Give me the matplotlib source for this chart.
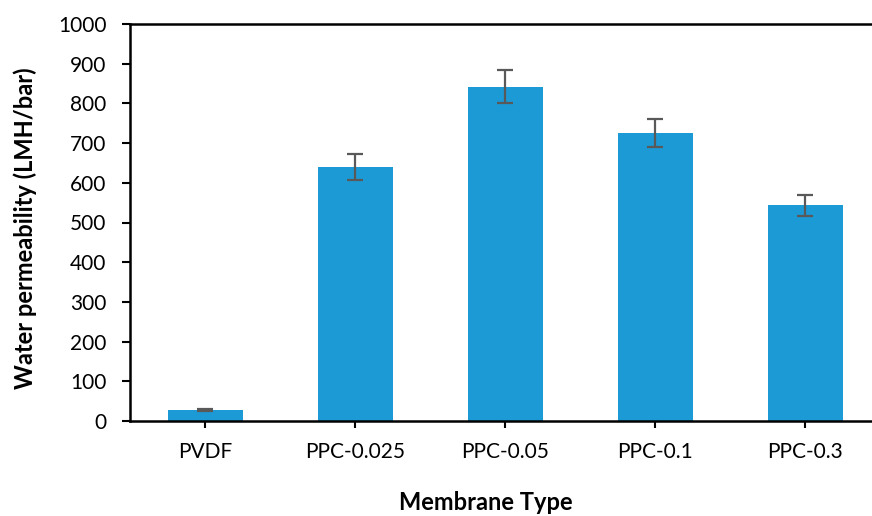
import numpy as np
import matplotlib.pyplot as plt

plt.rcParams['font.family'] = ['Lato', 'DejaVu Sans']

membranes = ["PVDF", "PPC-0.025", "PPC-0.05", "PPC-0.1", "PPC-0.3"]
permeability = [28, 640, 842, 725, 543]
perm_err = [2, 32, 42, 36, 27]
y_ticks = [0, 100, 200, 300, 400, 500, 600, 700, 800, 900, 1000]

fig = plt.figure(figsize=(8.72, 5.16), dpi=100)
ax = fig.add_axes([130 / 872, 95 / 516, 750 / 872, 397 / 516])

x = np.arange(len(membranes))
ax.bar(x, permeability, width=0.5, color="#1C9AD6", zorder=2)
ax.errorbar(x, permeability, yerr=perm_err, fmt="none", ecolor="#595959",
            elinewidth=1.6, capsize=6, capthick=1.6, zorder=3)

ax.set_xlim(-0.5, len(membranes) - 0.5)
ax.set_ylim(0, 1000)
ax.set_yticks(y_ticks)
ax.set_xticks(x)
ax.set_xticklabels(membranes)

for side in ["left", "bottom", "top"]:
    ax.spines[side].set_linewidth(1.8)
    ax.spines[side].set_color("black")
ax.spines["right"].set_visible(False)

ax.tick_params(axis="y", direction="out", length=6, width=1.5, labelsize=15, pad=11)
ax.tick_params(axis="x", direction="out", length=5, width=1.5, labelsize=15, pad=10)

fig.text(25 / 872, 1 - 228 / 516, "Water permeability (LMH/bar)", fontsize=17,
         fontweight="bold", rotation=90, ha="center", va="center")
fig.text(486 / 872, 1 - 502 / 516, "Membrane Type", fontsize=17, fontweight="bold",
         ha="center", va="center")

fig.savefig("out.png", dpi=100)
